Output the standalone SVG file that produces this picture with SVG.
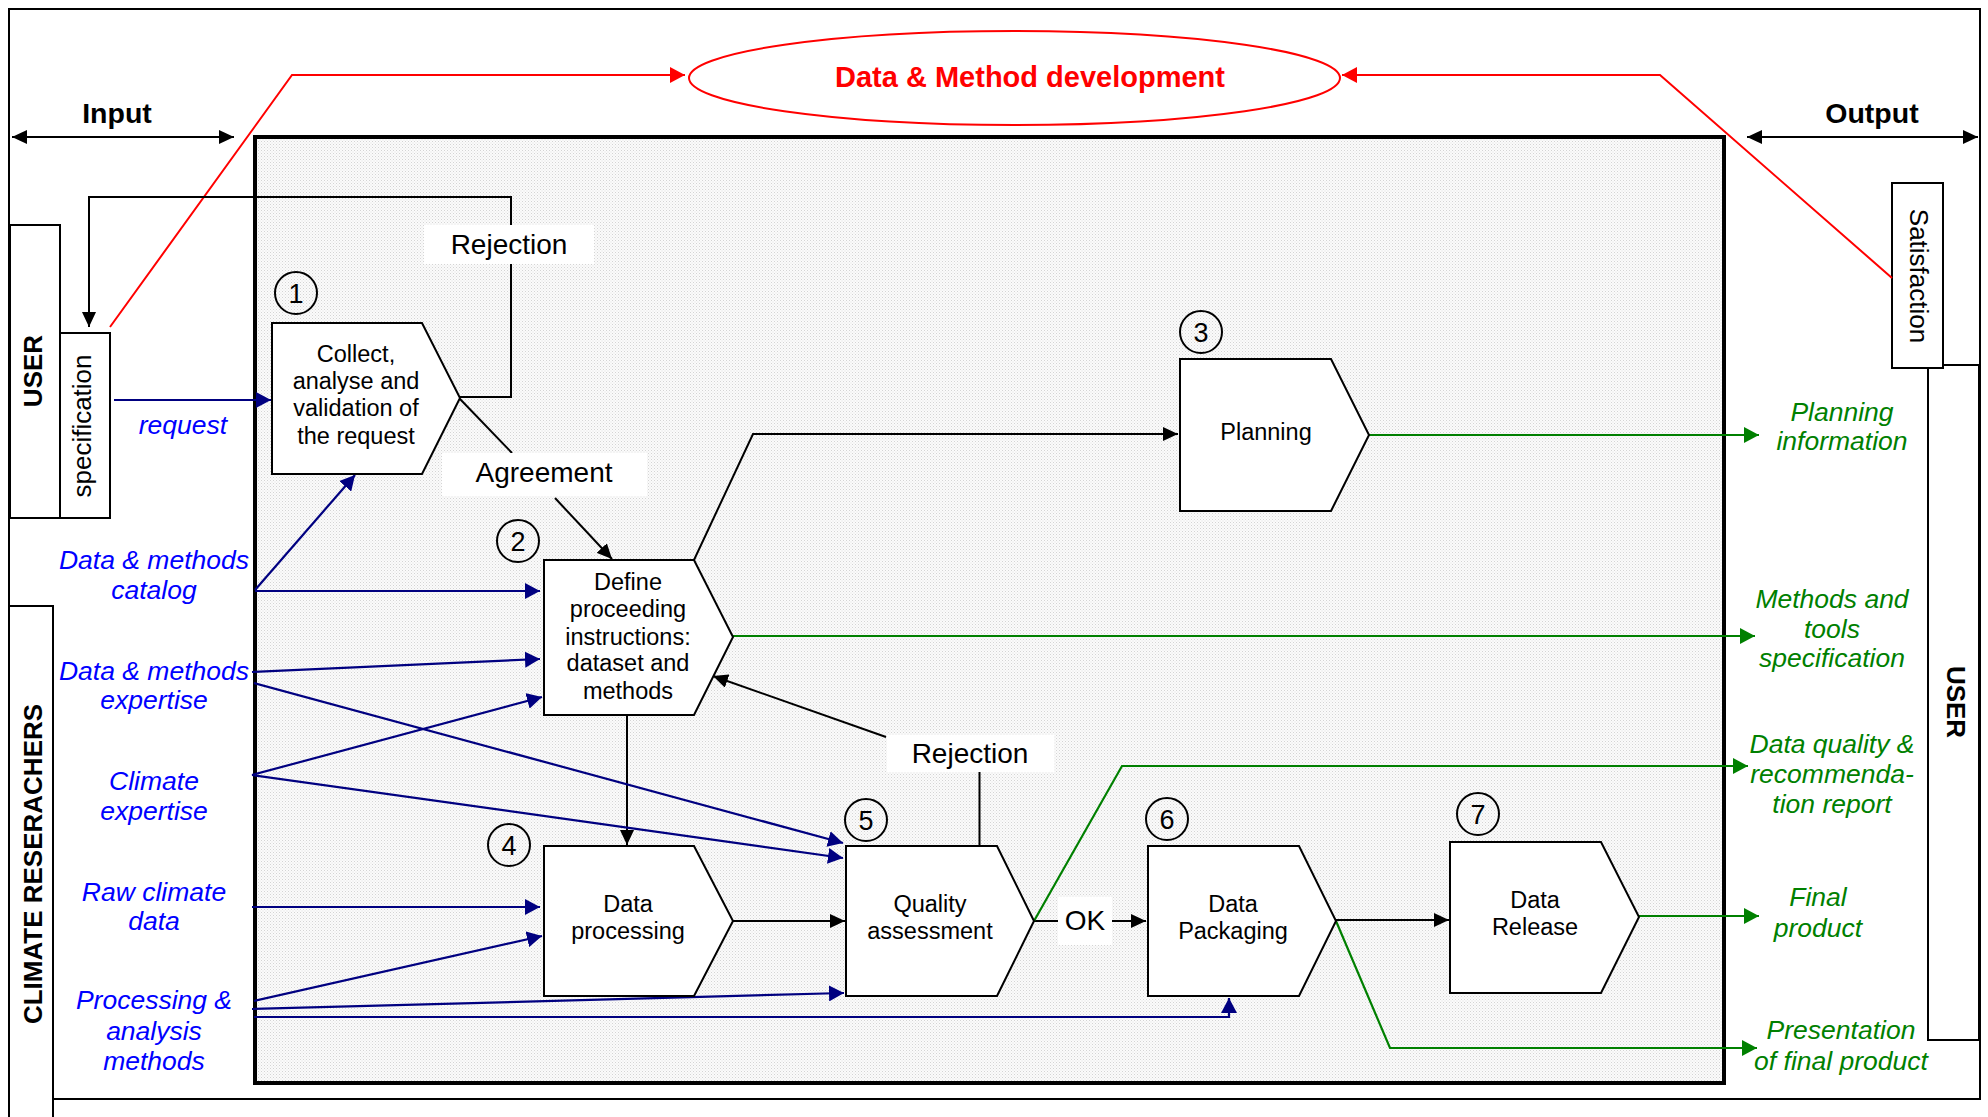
<svg xmlns="http://www.w3.org/2000/svg" width="1988" height="1117" viewBox="0 0 1988 1117">
  <style>
    .frame { fill: none; stroke: #000; stroke-width: 2; }
    .lane { fill: #fff; stroke: #000; stroke-width: 2; }
    .step { fill: #fff; stroke: #000; stroke-width: 2; }
    .num { fill: none; stroke: #000; stroke-width: 2; }
    .numt { font-family: "Liberation Sans", Arial, sans-serif; font-size: 27px; text-anchor: middle; fill: #000; }
    .stept { font-family: "Liberation Sans", Arial, sans-serif; font-size: 23.5px; text-anchor: middle; fill: #000; }
    .lbl { font-family: "Liberation Sans", Arial, sans-serif; font-size: 28px; text-anchor: middle; fill: #000; }
    .head { font-family: "Liberation Sans", Arial, sans-serif; font-size: 28.5px; font-weight: bold; text-anchor: middle; fill: #000; }
    .actor { font-family: "Liberation Sans", Arial, sans-serif; font-size: 26px; font-weight: bold; text-anchor: middle; fill: #000; }
    .side { font-family: "Liberation Sans", Arial, sans-serif; font-size: 26px; text-anchor: middle; fill: #000; }
    .in { font-family: "Liberation Sans", Arial, sans-serif; font-size: 26.5px; font-style: italic; text-anchor: middle; fill: #0000ff; }
    .out { font-family: "Liberation Sans", Arial, sans-serif; font-size: 26.5px; font-style: italic; text-anchor: middle; fill: #008000; }
    .dev { font-family: "Liberation Sans", Arial, sans-serif; font-size: 29px; font-weight: bold; text-anchor: middle; fill: #ff0000; }
    .k { fill: none; stroke: #000; stroke-width: 2; }
    .b { fill: none; stroke: #000080; stroke-width: 2.2; }
    .g { fill: none; stroke: #008000; stroke-width: 2.2; }
    .r { fill: none; stroke: #ff0000; stroke-width: 2; }
    .tag { fill: #fff; stroke: none; }
  </style>
  <defs>
    <pattern id="dots" width="3" height="3" patternUnits="userSpaceOnUse">
      <rect width="3" height="3" fill="#fbfbfb"/>
      <rect width="1" height="1" fill="#d4d4d4"/>
      <rect x="1.5" y="1.5" width="1" height="1" fill="#e2e2e2"/>
    </pattern>
    <marker id="ak" markerWidth="16" markerHeight="14" refX="15" refY="7" orient="auto" markerUnits="userSpaceOnUse">
      <path d="M0,0 L15,7 L0,14 Z" fill="#000"/>
    </marker>
    <marker id="ak2" markerWidth="16" markerHeight="14" refX="15" refY="7" orient="auto-start-reverse" markerUnits="userSpaceOnUse">
      <path d="M0,0 L15,7 L0,14 Z" fill="#000"/>
    </marker>
    <marker id="ab" markerWidth="16" markerHeight="16" refX="15" refY="8" orient="auto" markerUnits="userSpaceOnUse">
      <path d="M0,0 L15,8 L0,16 Z" fill="#000080"/>
    </marker>
    <marker id="ag" markerWidth="16" markerHeight="16" refX="15" refY="8" orient="auto" markerUnits="userSpaceOnUse">
      <path d="M0,0 L15,8 L0,16 Z" fill="#008000"/>
    </marker>
    <marker id="ar" markerWidth="16" markerHeight="16" refX="15" refY="8" orient="auto" markerUnits="userSpaceOnUse">
      <path d="M0,0 L15,8 L0,16 Z" fill="#ff0000"/>
    </marker>
  </defs>

  <rect width="1988" height="1117" fill="#fff"/>

  <!-- outer frame -->
  <g id="frame">
    <path class="frame" d="M9,1117 V9 H1980 V1099 H53"/>
  </g>

  <!-- process area -->
  <rect id="process-area" x="255" y="137" width="1469" height="946" fill="url(#dots)" stroke="#000" stroke-width="4"/>

  <!-- actors -->
  <g id="user-in">
    <rect class="lane" x="10" y="225" width="50" height="293"/>
    <text class="actor" transform="translate(42,371) rotate(-90)">USER</text>
  </g>
  <g id="specification">
    <rect class="lane" x="60" y="333" width="50" height="185"/>
    <text class="side" transform="translate(91,426) rotate(-90)">specification</text>
  </g>
  <g id="climate-researchers">
    <rect class="lane" x="9" y="606" width="44" height="520"/>
    <text class="actor" transform="translate(42,864) rotate(-90)">CLIMATE RESERACHERS</text>
  </g>
  <g id="user-out">
    <rect class="lane" x="1928" y="365" width="51" height="675"/>
    <text class="actor" transform="translate(1947,702) rotate(90)">USER</text>
  </g>
  <g id="satisfaction">
    <rect class="lane" x="1892" y="183" width="51" height="185"/>
    <text class="side" transform="translate(1910,276) rotate(90)">Satisfaction</text>
  </g>

  <!-- input / output ranges -->
  <g id="input-range">
    <line class="k" x1="12" y1="137" x2="234" y2="137" marker-start="url(#ak2)" marker-end="url(#ak2)"/>
    <text class="head" x="117" y="123">Input</text>
  </g>
  <g id="output-range">
    <line class="k" x1="1747" y1="137" x2="1978" y2="137" marker-start="url(#ak2)" marker-end="url(#ak2)"/>
    <text class="head" x="1872" y="123">Output</text>
  </g>

  <!-- development loop -->
  <g id="development">
    <ellipse cx="1014.5" cy="78" rx="325.5" ry="47" fill="#fff" stroke="#ff0000" stroke-width="2"/>
    <text class="dev" x="1030" y="87">Data &amp; Method development</text>
  </g>

  <!-- connectors -->
  <g id="connectors">
    <!-- feedback to development -->
    <path class="r" d="M110,327 L292,75 H685" marker-end="url(#ar)"/>
    <path class="r" d="M1892,278 L1660,75 H1342" marker-end="url(#ar)"/>

    <!-- step 1 outcomes -->
    <path class="k" d="M460,397 H511 V197 H89 V327" marker-end="url(#ak)"/>
    <line class="k" x1="460" y1="399" x2="512" y2="453"/>
    <line class="k" x1="555" y1="498" x2="612" y2="559" marker-end="url(#ak)"/>

    <!-- process flow -->
    <path class="k" d="M694,560 L753,434 H1178" marker-end="url(#ak)"/>
    <line class="k" x1="627" y1="715" x2="627" y2="845" marker-end="url(#ak)"/>
    <line class="k" x1="733" y1="921" x2="845" y2="921" marker-end="url(#ak)"/>
    <line class="k" x1="1034" y1="921" x2="1058" y2="921"/>
    <line class="k" x1="1112" y1="921" x2="1146" y2="921" marker-end="url(#ak)"/>
    <line class="k" x1="1336" y1="920" x2="1449" y2="920" marker-end="url(#ak)"/>
    <line class="k" x1="979.5" y1="772" x2="979.5" y2="845"/>
    <line class="k" x1="886" y1="737" x2="713" y2="676" marker-end="url(#ak)"/>

    <!-- researcher inputs -->
    <line class="b" x1="114" y1="400" x2="271" y2="400" marker-end="url(#ab)"/>
    <line class="b" x1="255" y1="590" x2="355" y2="475" marker-end="url(#ab)"/>
    <line class="b" x1="255" y1="591" x2="540" y2="591" marker-end="url(#ab)"/>
    <line class="b" x1="252" y1="672" x2="540" y2="659" marker-end="url(#ab)"/>
    <line class="b" x1="254" y1="683" x2="843" y2="843" marker-end="url(#ab)"/>
    <line class="b" x1="252" y1="775" x2="542" y2="697" marker-end="url(#ab)"/>
    <line class="b" x1="252" y1="775" x2="843" y2="858" marker-end="url(#ab)"/>
    <line class="b" x1="252" y1="907" x2="540" y2="907" marker-end="url(#ab)"/>
    <line class="b" x1="254" y1="1001" x2="542" y2="936" marker-end="url(#ab)"/>
    <line class="b" x1="252" y1="1009" x2="844" y2="993" marker-end="url(#ab)"/>
    <path class="b" d="M254,1017 H1229 V998" marker-end="url(#ab)"/>

    <!-- deliverables -->
    <line class="g" x1="1369" y1="435" x2="1759" y2="435" marker-end="url(#ag)"/>
    <line class="g" x1="733" y1="636" x2="1755" y2="636" marker-end="url(#ag)"/>
    <path class="g" d="M1034,921 L1122,766 H1748" marker-end="url(#ag)"/>
    <line class="g" x1="1639" y1="916" x2="1759" y2="916" marker-end="url(#ag)"/>
    <path class="g" d="M1336,921 L1390,1048 H1757" marker-end="url(#ag)"/>
  </g>

  <!-- connector labels -->
  <g id="label-rejection-1">
    <rect class="tag" x="424" y="225" width="170" height="39"/>
    <text class="lbl" x="509" y="254">Rejection</text>
  </g>
  <g id="label-agreement">
    <rect class="tag" x="442" y="453" width="205" height="43"/>
    <text class="lbl" x="544" y="482">Agreement</text>
  </g>
  <g id="label-rejection-2">
    <rect class="tag" x="887" y="735" width="167" height="37"/>
    <text class="lbl" x="970" y="763">Rejection</text>
  </g>
  <g id="label-ok">
    <rect class="tag" x="1058" y="897" width="54" height="48"/>
    <text class="lbl" x="1085" y="930">OK</text>
  </g>

  <!-- process steps -->
  <g id="step-1">
    <path class="step" d="M272,323 H422 L460,398 L422,474 H272 Z"/>
    <circle class="num" cx="296" cy="293" r="21"/>
    <text class="numt" x="296" y="303">1</text>
    <text class="stept" x="356" y="362">Collect,</text>
    <text class="stept" x="356" y="389">analyse and</text>
    <text class="stept" x="356" y="416">validation of</text>
    <text class="stept" x="356" y="444">the request</text>
  </g>
  <g id="step-2">
    <path class="step" d="M544,560 H694 L733,637 L694,715 H544 Z"/>
    <circle class="num" cx="518" cy="541" r="21"/>
    <text class="numt" x="518" y="551">2</text>
    <text class="stept" x="628" y="590">Define</text>
    <text class="stept" x="628" y="617">proceeding</text>
    <text class="stept" x="628" y="645">instructions:</text>
    <text class="stept" x="628" y="671">dataset and</text>
    <text class="stept" x="628" y="699">methods</text>
  </g>
  <g id="step-3">
    <path class="step" d="M1180,359 H1331 L1369,435 L1331,511 H1180 Z"/>
    <circle class="num" cx="1201" cy="332" r="21"/>
    <text class="numt" x="1201" y="342">3</text>
    <text class="stept" x="1266" y="440">Planning</text>
  </g>
  <g id="step-4">
    <path class="step" d="M544,846 H694 L733,921 L694,996 H544 Z"/>
    <circle class="num" cx="509" cy="845" r="21"/>
    <text class="numt" x="509" y="855">4</text>
    <text class="stept" x="628" y="912">Data</text>
    <text class="stept" x="628" y="939">processing</text>
  </g>
  <g id="step-5">
    <path class="step" d="M846,846 H997 L1034,921 L997,996 H846 Z"/>
    <circle class="num" cx="866" cy="820" r="21"/>
    <text class="numt" x="866" y="830">5</text>
    <text class="stept" x="930" y="912">Quality</text>
    <text class="stept" x="930" y="939">assessment</text>
  </g>
  <g id="step-6">
    <path class="step" d="M1148,846 H1299 L1336,921 L1299,996 H1148 Z"/>
    <circle class="num" cx="1167" cy="819" r="21"/>
    <text class="numt" x="1167" y="829">6</text>
    <text class="stept" x="1233" y="912">Data</text>
    <text class="stept" x="1233" y="939">Packaging</text>
  </g>
  <g id="step-7">
    <path class="step" d="M1450,842 H1601 L1639,917 L1601,993 H1450 Z"/>
    <circle class="num" cx="1478" cy="814" r="21"/>
    <text class="numt" x="1478" y="824">7</text>
    <text class="stept" x="1535" y="908">Data</text>
    <text class="stept" x="1535" y="935">Release</text>
  </g>

  <!-- researcher inputs -->
  <g id="inputs">
    <text class="in" x="183" y="434">request</text>
    <text class="in" x="154" y="569">Data &amp; methods</text>
    <text class="in" x="154" y="599">catalog</text>
    <text class="in" x="154" y="680">Data &amp; methods</text>
    <text class="in" x="154" y="709">expertise</text>
    <text class="in" x="154" y="790">Climate</text>
    <text class="in" x="154" y="820">expertise</text>
    <text class="in" x="154" y="901">Raw climate</text>
    <text class="in" x="154" y="930">data</text>
    <text class="in" x="154" y="1009">Processing &amp;</text>
    <text class="in" x="154" y="1040">analysis</text>
    <text class="in" x="154" y="1070">methods</text>
  </g>

  <!-- deliverables -->
  <g id="outputs">
    <text class="out" x="1842" y="421">Planning</text>
    <text class="out" x="1842" y="450">information</text>
    <text class="out" x="1832" y="608">Methods and</text>
    <text class="out" x="1832" y="638">tools</text>
    <text class="out" x="1832" y="667">specification</text>
    <text class="out" x="1832" y="753">Data quality &amp;</text>
    <text class="out" x="1832" y="783">recommenda-</text>
    <text class="out" x="1832" y="813">tion report</text>
    <text class="out" x="1818" y="906">Final</text>
    <text class="out" x="1818" y="937">product</text>
    <text class="out" x="1841" y="1039">Presentation</text>
    <text class="out" x="1841" y="1070">of final product</text>
  </g>
</svg>
